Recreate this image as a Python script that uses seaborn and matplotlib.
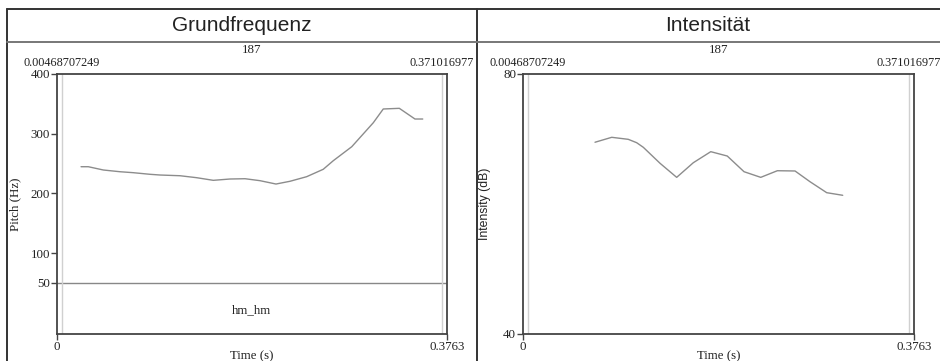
import matplotlib
matplotlib.use('Agg')
import matplotlib.pyplot as plt
import seaborn as sns
import pandas as pd
from matplotlib.lines import Line2D

# pitch contour (s, Hz)
pitch_time = [0.0232, 0.0302, 0.0447, 0.0608, 0.0736, 0.0897, 0.0994, 0.1187,
              0.1348, 0.1508, 0.1669, 0.1814, 0.1959, 0.2113, 0.2248, 0.2409,
              0.2569, 0.2666, 0.2844, 0.3052, 0.3148, 0.3303, 0.3454, 0.3529]
pitch_hz = [244.7, 244.7, 239.2, 236.3, 234.7, 232.0, 230.8, 229.6,
            226.3, 221.9, 224.1, 224.6, 221.3, 215.7, 220.3, 228.0,
            240.4, 254.8, 278.2, 318.4, 341.4, 342.5, 324.6, 324.6]

# intensity contour (s, dB)
int_time = [0.0693, 0.0854, 0.1013, 0.1094, 0.1158, 0.1319, 0.1479, 0.1639,
            0.1807, 0.1966, 0.2127, 0.2288, 0.2448, 0.2618, 0.2762, 0.2923, 0.3077]
int_db = [69.5, 70.26, 69.95, 69.43, 68.72, 66.26, 64.1, 66.35,
          68.05, 67.38, 64.97, 64.1, 65.12, 65.08, 63.43, 61.74, 61.34]

total_dur = 0.3763
sel_start = 0.00468707249
sel_end = 0.371016977
sel_label = '187'
tier_text = 'hm_hm'
titles = ['Grundfrequenz', 'Intensität']

sns.set_style('white')
plt.rcParams['font.family'] = ['Liberation Serif', 'DejaVu Serif']

W, H = 940, 361
fs = 9.3
fig = plt.figure(figsize=(W / 100, H / 100), dpi=100)

def px_axes(x0, x1, ytop, ybot):
    return fig.add_axes([x0 / W, 1 - ybot / H, (x1 - x0) / W, (ybot - ytop) / H])

ax1 = px_axes(57, 447, 74, 334)
ax2 = px_axes(523, 914, 74, 334)

pitch_df = pd.DataFrame({'t': pitch_time, 'f0': pitch_hz})
int_df = pd.DataFrame({'t': int_time, 'db': int_db})

sns.lineplot(data=pitch_df, x='t', y='f0', ax=ax1, color='#8c8c8c', lw=1.0)
sns.lineplot(data=int_df, x='t', y='db', ax=ax2, color='#8c8c8c', lw=1.0)

ax1.set_ylim(-35.5, 400)
ax1.set_yticks([50, 100, 200, 300, 400])
ax2.set_ylim(40, 80)
ax2.set_yticks([40, 80])

# tier boundary and label
ax1.axhline(50, color='#888888', lw=1.0)
ax1.text(total_dur / 2, 5, tier_text, ha='center', va='center', fontsize=fs, color='#222222')

for ax in (ax1, ax2):
    ax.set_xlim(0, total_dur)
    ax.set_xticks([0, total_dur])
    ax.set_xticklabels(['0', '0.3763'])
    for v in (sel_start, sel_end):
        ax.axvline(v, color='#d0d0d0', lw=1.0)
    for s in ax.spines.values():
        s.set_color('#444444')
        s.set_linewidth(1.3)
    ax.tick_params(axis='both', direction='out', length=4, width=1, color='#444444',
                   labelsize=fs, labelcolor='#222222', pad=1, left=True, bottom=True)
    ax.set_xlabel('Time (s)', fontsize=fs, color='#222222', labelpad=-2)
    ax.text(sel_start, 1.02, f'{sel_start:.11f}', transform=ax.get_xaxis_transform(),
            ha='center', va='bottom', fontsize=8.8, color='#222222')
    ax.text(sel_end, 1.02, f'{sel_end:.9f}', transform=ax.get_xaxis_transform(),
            ha='center', va='bottom', fontsize=8.8, color='#222222')
    ax.text(total_dur / 2, 1.07, sel_label, transform=ax.get_xaxis_transform(),
            ha='center', va='bottom', fontsize=fs, color='#222222')

ax1.set_ylabel('Pitch (Hz)', fontsize=fs, color='#222222', labelpad=7)
ax2.set_ylabel('Intensity (dB)', fontsize=8.8, color='#222222', labelpad=9,
               family=['Liberation Sans Narrow', 'Liberation Sans', 'DejaVu Sans'])

# outer table frame with headers
def fline(x0, y0, x1, y1, color='#333333', lw=1.4):
    fig.add_artist(Line2D([x0 / W, x1 / W], [1 - y0 / H, 1 - y1 / H],
                          color=color, lw=lw, transform=fig.transFigure))

fline(7, 9, W, 9)
fline(7, 9, 7, H)
fline(477, 9, 477, H)
fline(7, 42, W, 42, color='#777777')

for cx, title in zip([242, 708], titles):
    fig.text(cx / W, 1 - 25.5 / H, title, ha='center', va='center', fontsize=15,
             color='#222222', family=['Liberation Sans', 'DejaVu Sans'])

fig.savefig('out.png', dpi=100)
